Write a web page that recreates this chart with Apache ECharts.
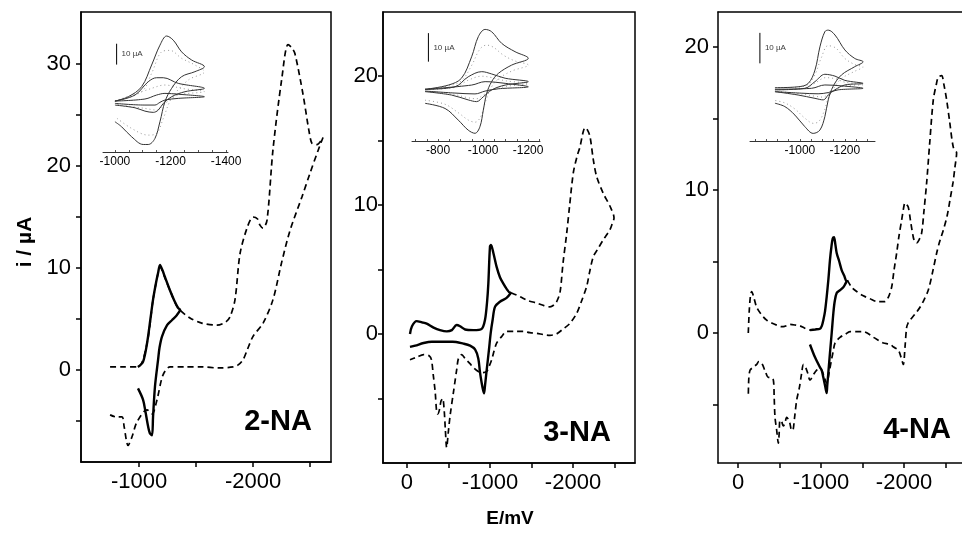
<!DOCTYPE html>
<html><head><meta charset="utf-8">
<script src="https://cdn.jsdelivr.net/npm/echarts@6/dist/echarts.min.js"></script>
<style>html,body{margin:0;padding:0;background:#fff}#c{width:962px;height:535px}</style>
</head><body><div id="c"></div>
<script>
// ---------- DATA (E in mV, i in µA) ----------
// Panel 1: 2-NA
const p1Solid = [[-990,0.3],[-1035,0.8],[-1070,2.6],[-1100,5.0],[-1123,6.9],[-1150,8.6],[-1167,9.5],[-1184,10.3],[-1205,9.8],[-1228,9.1],[-1272,7.8],[-1310,6.8],[-1342,6.1],[-1360,5.9],[-1333,5.4],[-1290,4.9],[-1246,4.4],[-1202,3.3],[-1180,2.2],[-1167,1.0],[-1140,-1.6],[-1123,-4.6],[-1114,-6.4],[-1095,-6.2],[-1079,-5.5],[-1055,-4.0],[-1035,-2.9],[-991,-1.8]];
const p1Dash = [[-746,0.3],[-850,0.3],[-990,0.3],[-1070,2.6],[-1123,6.9],[-1167,9.5],[-1184,10.1],[-1228,9.0],[-1272,7.8],[-1342,6.1],[-1447,5.1],[-1550,4.6],[-1684,4.4],[-1760,4.7],[-1798,5.2],[-1842,6.9],[-1886,11.4],[-1950,14.0],[-2000,15.0],[-2040,14.8],[-2061,14.2],[-2088,13.9],[-2123,14.7],[-2175,21.6],[-2254,28.7],[-2307,31.9],[-2340,31.6],[-2368,31.0],[-2439,27.0],[-2490,23.5],[-2518,22.2],[-2560,22.1],[-2614,22.8],
  [-2570,21.5],[-2500,19.3],[-2430,17.0],[-2325,13.7],[-2250,10.5],[-2175,6.9],[-2088,4.6],[-2000,3.3],[-1950,2.0],[-1912,1.0],[-1870,0.5],[-1827,0.3],[-1700,0.2],[-1550,0.3],[-1400,0.3],[-1272,0.3],[-1210,-0.5],[-1158,-2.9],[-1114,-4.3],[-1070,-3.9],[-982,-5.1],[-940,-6.5],[-904,-7.4],[-870,-5.6],[-851,-4.6],[-800,-4.6],[-746,-4.4]];
// Panel 2: 3-NA
const p2Solid = [[-36,0],[-60,0.6],[-116,1.0],[-180,0.9],[-237,0.8],[-320,0.5],[-398,0.3],[-480,0.2],[-540,0.3],[-598,0.7],[-640,0.6],[-700,0.35],[-800,0.3],[-900,0.4],[-940,1.1],[-965,2.5],[-980,3.9],[-1000,6.8],[-1012,6.9],[-1040,6.3],[-1080,5.2],[-1120,4.4],[-1161,3.9],[-1200,3.5],[-1241,3.2],[-1253,3.2],[-1200,2.8],[-1120,2.5],[-1060,2.1],[-1032,1.1],[-1008,0.05],[-988,-1.2],[-960,-2.8],[-940,-4.0],[-928,-4.6],[-915,-4.3],[-900,-3.8],[-880,-3.0],[-859,-1.9],[-820,-1.2],[-760,-0.9],[-680,-0.75],[-550,-0.6],[-400,-0.6],[-300,-0.6],[-200,-0.7],[-100,-0.9],[-36,-1.0]];
const p2Dash = [[-1253,3.2],[-1361,2.9],[-1450,2.6],[-1562,2.4],[-1650,2.2],[-1723,2.1],[-1780,2.3],[-1803,2.5],[-1843,3.2],[-1880,5.5],[-1924,7.8],[-1960,10.0],[-2004,12.5],[-2050,13.8],[-2084,14.5],[-2120,15.6],[-2145,16.0],[-2175,15.8],[-2205,15.3],[-2245,13.5],[-2285,12.2],[-2365,10.9],[-2446,9.9],[-2494,9.0],
  [-2470,8.5],[-2446,8.1],[-2365,7.3],[-2300,6.6],[-2245,6.0],[-2200,4.8],[-2165,3.7],[-2100,2.5],[-2044,1.6],[-1960,0.8],[-1884,0.4],[-1800,0.0],[-1723,-0.1],[-1650,-0.05],[-1562,0.05],[-1480,0.1],[-1402,0.2],[-1300,0.2],[-1201,0.2],[-1140,-0.2],[-1080,-0.7],[-1050,-1.3],[-1020,-2.0],[-990,-2.5],[-960,-2.9],[-910,-3.0],[-859,-2.9],[-800,-2.6],[-759,-2.3],[-700,-1.9],[-659,-1.6],[-620,-1.9],[-598,-2.8],[-560,-4.5],[-520,-6.3],[-498,-7.6],[-478,-8.8],[-462,-7.4],[-448,-5.9],[-430,-5.0],[-410,-5.2],[-390,-5.9],[-370,-6.2],[-357,-6.0],[-340,-4.5],[-317,-3.2],[-295,-2.0],[-270,-1.7],[-200,-1.6],[-116,-1.8],[-36,-2.0]];
// Panel 3: 4-NA
const p3Solid = [[-867,0.2],[-930,0.25],[-988,0.3],[-1010,0.5],[-1028,0.9],[-1048,1.5],[-1068,2.5],[-1090,3.8],[-1108,5.1],[-1125,6.0],[-1141,6.6],[-1157,6.7],[-1173,6.2],[-1189,5.6],[-1220,5.0],[-1249,4.4],[-1280,4.0],[-1309,3.6],[-1317,3.7],[-1290,3.4],[-1269,3.2],[-1230,3.0],[-1189,2.8],[-1165,2.2],[-1149,1.4],[-1129,0],[-1108,-1.4],[-1088,-2.8],[-1075,-3.7],[-1068,-4.2],[-1050,-3.7],[-1028,-3.1],[-1008,-2.6],[-988,-2.4],[-928,-1.7],[-867,-0.8]];
const p3DashStart = [[-124,0],[-135,1.5],[-150,2.6],[-165,2.9],[-190,2.5],[-225,1.8],[-280,1.3],[-345,0.9],[-406,0.7],[-466,0.55],[-520,0.45],[-546,0.45],[-600,0.55],[-627,0.6],[-700,0.55],[-747,0.5],[-800,0.35],[-867,0.2]];
const p3Dash = [[-1317,3.7],[-1370,3.2],[-1430,2.9],[-1510,2.6],[-1590,2.4],[-1680,2.2],[-1771,2.2],[-1811,2.5],[-1851,3.2],[-1880,4.4],[-1912,5.6],[-1940,6.8],[-1972,7.9],[-2000,8.9],[-2012,9.1],[-2030,9.0],[-2052,8.8],[-2080,7.8],[-2112,6.7],[-2130,6.4],[-2153,6.3],[-2180,6.5],[-2213,7.0],[-2240,8.5],[-2273,10.5],[-2310,13.3],[-2353,16.3],[-2390,17.4],[-2414,17.9],[-2454,18.0],[-2480,17.4],[-2514,16.3],[-2550,14.8],[-2594,13.0],[-2634,12.6],
  [-2614,11.6],[-2590,10.5],[-2554,9.3],[-2520,8.2],[-2474,7.2],[-2430,6.4],[-2394,5.6],[-2350,4.4],[-2293,3.0],[-2240,2.3],[-2193,1.8],[-2130,1.3],[-2072,0.9],[-2050,0.7],[-2032,0.4],[-2012,-1.0],[-1992,-2.2],[-1965,-1.7],[-1932,-1.2],[-1880,-1.0],[-1831,-0.8],[-1751,-0.7],[-1690,-0.5],[-1631,-0.3],[-1570,-0.05],[-1510,0.1],[-1430,0.1],[-1349,0.1],[-1290,-0.1],[-1229,-0.3],[-1169,-0.7],[-1150,-1.2],[-1129,-1.8],[-1100,-2.7],[-1068,-3.5],[-1040,-3.1],[-1008,-2.6],[-980,-2.5],[-948,-2.6],[-910,-2.9],[-867,-3.3],[-840,-2.8],[-807,-2.3],[-787,-2.2],[-767,-2.8],[-740,-3.8],[-707,-4.7],[-680,-6.0],[-660,-6.8],[-647,-6.8],[-620,-6.2],[-586,-5.9],[-566,-6.3],[-546,-6.5],[-526,-6.2],[-506,-6.1],[-496,-7.0],[-486,-7.7],[-466,-6.8],[-446,-5.9],[-436,-4.5],[-426,-3.3],[-395,-3.1],[-365,-3.1],[-330,-2.7],[-285,-2.1],[-250,-2.0],[-225,-2.2],[-180,-2.4],[-145,-2.6],[-130,-3.2],[-124,-4.5]];

// Insets (scan-rate series, solid = measured, dotted = simulated)
const in1Big = [[-1000,0],[-1048,2.1],[-1096,6.9],[-1132,17.3],[-1162,26.8],[-1186,31.2],[-1210,29.2],[-1240,23.6],[-1276,19.7],[-1322,16.5],[-1288,14.1],[-1240,11.7],[-1204,6.1],[-1180,-0.3],[-1162,-9.9],[-1144,-17.9],[-1120,-20.8],[-1102,-20.8],[-1060,-17.1],[-1024,-12.3],[-1000,-9.9]];
const in1Mid = [[-1000,0],[-1072,2.9],[-1120,9.3],[-1150,11.2],[-1174,11.2],[-1228,8.5],[-1322,6.1],[-1252,4.5],[-1204,2.1],[-1174,-1.1],[-1156,-4.3],[-1138,-5.4],[-1108,-4.8],[-1072,-3.2],[-1000,-1.9]];
const in1Small = [[-1000,0],[-1108,1.0],[-1150,2.9],[-1180,3.7],[-1228,3.3],[-1322,2.1],[-1228,1.3],[-1180,0.5],[-1162,-0.6],[-1144,-1.9],[-1108,-1.9],[-1000,-1.1]];
const in1SimBig = [[-1000,0],[-1096,4.5],[-1132,13.3],[-1168,23.6],[-1198,24.3],[-1240,20.5],[-1288,17.3],[-1322,14.1],[-1264,10.1],[-1204,1.3],[-1174,-8.3],[-1150,-15.5],[-1120,-16.3],[-1060,-13.1],[-1000,-7.5]];
const in1SimMid = [[-1000,0],[-1132,6.1],[-1180,7.7],[-1240,6.1],[-1322,4.5],[-1228,2.9],[-1180,-1.1],[-1150,-4.3],[-1108,-3.5],[-1000,-1.5]];
const in1Bar = [[-1006,17.5],[-1006,27.5]];

const in2Big = [[-742,0],[-846,1.5],[-904,3.9],[-949,11.4],[-979,18.5],[-1009,21.0],[-1038,20.2],[-1083,16.1],[-1142,13.2],[-1201,10.9],[-1127,8.5],[-1068,5.6],[-1038,2.7],[-1016,-1.4],[-1001,-7.3],[-986,-13.1],[-964,-15.4],[-934,-14.3],[-890,-10.8],[-831,-6.7],[-742,-4.9]];
const in2Mid = [[-742,0],[-875,0.9],[-934,4.4],[-994,6.2],[-1038,5.4],[-1098,3.9],[-1201,2.7],[-1098,1.5],[-1038,-0.2],[-1001,-2.6],[-971,-4.3],[-934,-3.7],[-860,-2.0],[-742,-0.8]];
const in2Small = [[-742,0],[-949,1.5],[-1009,2.7],[-1098,2.1],[-1201,0.9],[-1068,0.2],[-1009,-0.6],[-964,-1.6],[-875,-1.3],[-742,-0.6]];
const in2SimBig = [[-742,0],[-846,1.2],[-904,3.0],[-950,8.5],[-985,14.0],[-1015,15.5],[-1045,14.8],[-1090,12.0],[-1140,10.0],[-1201,8.5],[-1130,6.5],[-1070,3.8],[-1035,0.5],[-1010,-4.5],[-990,-9.5],[-965,-11.5],[-935,-10.8],[-890,-8.2],[-830,-5.2],[-742,-3.8]];
const in2SimMid = [[-742,0],[-875,0.7],[-934,3.2],[-994,4.6],[-1040,4.1],[-1100,3.0],[-1201,2.0],[-1100,1.0],[-1040,-0.3],[-1000,-2.0],[-971,-3.3],[-930,-2.9],[-860,-1.6],[-742,-0.7]];
const in2Bar = [[-757,9.7],[-757,19.7]];

const in3Big = [[-889,0.2],[-992,0.5],[-1037,1.6],[-1067,6.0],[-1089,13.6],[-1111,18.6],[-1126,19.1],[-1156,17.5],[-1200,12.6],[-1244,9.8],[-1281,8.7],[-1244,7.1],[-1185,4.4],[-1148,0.7],[-1126,-3.8],[-1111,-9.3],[-1089,-13.7],[-1059,-14.8],[-1022,-12.6],[-978,-8.8],[-933,-6.0],[-889,-4.9]];
const in3Mid = [[-889,-0.5],[-1022,0],[-1067,2.2],[-1111,4.6],[-1156,4.0],[-1200,2.6],[-1281,1.6],[-1200,1.1],[-1156,-0.5],[-1126,-2.2],[-1104,-3.8],[-1067,-3.3],[-992,-2.2],[-889,-1.1]];
const in3Small = [[-889,-0.3],[-1052,0],[-1111,1.1],[-1185,0.8],[-1281,0],[-1170,-0.5],[-1126,-1.4],[-1081,-1.8],[-1007,-1.6],[-889,-1.1]];
const in3SimBig = [[-889,0.2],[-992,0.4],[-1037,1.3],[-1067,4.5],[-1095,10.0],[-1125,14.0],[-1160,13.2],[-1200,9.8],[-1244,7.8],[-1281,7.0],[-1244,5.6],[-1185,3.2],[-1150,0],[-1126,-3.2],[-1108,-7.5],[-1085,-10.8],[-1060,-11.5],[-1022,-9.8],[-978,-6.8],[-933,-4.8],[-889,-4.0]];
const in3SimMid = [[-889,-0.5],[-1022,0],[-1067,1.7],[-1115,3.5],[-1160,3.1],[-1200,2.0],[-1281,1.2],[-1200,0.8],[-1156,-0.4],[-1126,-1.7],[-1104,-2.9],[-1067,-2.6],[-992,-1.7],[-889,-0.9]];
const in3Bar = [[-822,8.2],[-822,18.2]];

// ticks / labels
const p1XTicks = [-1000,-1500,-2000,-2500], p1XLabels = [-1000,-2000];
const p23XTicks = [0,-500,-1000,-1500,-2000,-2500], p23XLabels = [0,-1000,-2000];
const p1YTicks = [-5,0,5,10,15,20,25,30], p1YLabels = [0,10,20,30];
const p23YTicks = [-5,0,5,10,15,20], p23YLabels = [0,10,20];
const in1Labels = [-1000,-1200,-1400], in2Labels = [-800,-1000,-1200], in3Labels = [-1000,-1200];
const panelNames = ['2-NA','3-NA','4-NA'];
const barText = '10 µA';

// ---------- LAYOUT ----------
const FONT = 'Liberation Sans, Arial, Helvetica, sans-serif';
const fmt = v => String(v);
const grids = [
  {left:81, top:12, width:250, height:450},
  {left:383, top:12, width:252, height:451},
  {left:718, top:12, width:244, height:451},
  {left:103, top:31, width:125, height:121},
  {left:412, top:28, width:128, height:113},
  {left:750, top:28, width:125, height:113}
];
const xr = [[-2684,-491],[-2747,289],[-2699,241],[-1407,-957],[-1253,-684],[-1334,-778]];
const yr = [[-9.02,35.1],[-10,24.96],[-9.09,22.45],[-24.4,33.6],[-18.1,21.5],[-17.3,19.8]];
const yMargins = [10,5,9];

const xAxes = [], yAxes = [];
for (let k=0;k<3;k++){
  xAxes.push({gridIndex:k, type:'value', inverse:true, min:xr[k][0], max:xr[k][1],
    axisLine:{onZero:false, lineStyle:{color:'#000', width:1.5}},
    axisTick:{customValues: k===0?p1XTicks:p23XTicks, length:5, lineStyle:{color:'#000', width:1.5}},
    axisLabel:{customValues: k===0?p1XLabels:p23XLabels, formatter:fmt, color:'#000', fontSize:22, fontFamily:FONT, margin:9},
    splitLine:{show:false}});
  yAxes.push({gridIndex:k, type:'value', min:yr[k][0], max:yr[k][1],
    axisLine:{onZero:false, lineStyle:{color:'#000', width:1.5}},
    axisTick:{customValues: k===0?p1YTicks:p23YTicks, length:5, lineStyle:{color:'#000', width:1.5}},
    axisLabel:{customValues: k===0?p1YLabels:p23YLabels, formatter:fmt, color:'#000', fontSize:22, fontFamily:FONT, margin:yMargins[k]},
    splitLine:{show:false}});
}
const inLabels = [in1Labels,in2Labels,in3Labels];
for (let k=3;k<6;k++){
  const ticks=[]; for(let t=Math.ceil(-xr[k][1]/50)*50; t<=-xr[k][0]; t+=50) ticks.push(-t);
  xAxes.push({gridIndex:k, type:'value', inverse:true, min:xr[k][0], max:xr[k][1],
    axisLine:{onZero:false, lineStyle:{color:'#333', width:1}},
    axisTick:{customValues:ticks, length:2, inside:true, lineStyle:{color:'#555', width:1}},
    axisLabel:{customValues:inLabels[k-3], formatter:fmt, color:'#000', fontSize:12, fontFamily:FONT, margin:4},
    splitLine:{show:false}});
  yAxes.push({gridIndex:k, type:'value', min:yr[k][0], max:yr[k][1], show:false, splitLine:{show:false}});
}
// top frame line for the right panel (its right edge runs off the page)
xAxes.push({gridIndex:2, type:'value', position:'top', inverse:true, min:xr[2][0], max:xr[2][1],
  axisLine:{onZero:false, lineStyle:{color:'#000', width:1.5}}, axisTick:{show:false}, axisLabel:{show:false}, splitLine:{show:false}});

const series = [];
function line(idx, data, style){
  series.push(Object.assign({type:'line', xAxisIndex:idx, yAxisIndex:idx, data:data, showSymbol:false, symbol:'none', smooth:0.3, animation:false, silent:true}, style));
}
const solidMain = {lineStyle:{color:'#000', width:2.4}, z:4};
const dashMain = {lineStyle:{color:'#000', width:1.7, type:[6,4]}, z:3};
line(0,p1Dash,dashMain); line(0,p1Solid,solidMain);
line(1,p2Dash,dashMain); line(1,p2Solid,solidMain);
line(2,p3DashStart,dashMain); line(2,p3Dash,dashMain); line(2,p3Solid,solidMain);
const inSolid = {lineStyle:{color:'#333', width:1}, smooth:0.35};
const inDot = {lineStyle:{color:'#999', width:1, type:[1,3]}, smooth:0.35};
[[in1Big,in1Mid,in1Small,in1SimBig,in1SimMid,in1Bar],[in2Big,in2Mid,in2Small,in2SimBig,in2SimMid,in2Bar],[in3Big,in3Mid,in3Small,in3SimBig,in3SimMid,in3Bar]].forEach((s,j)=>{
  const idx=3+j;
  line(idx,s[3],inDot); line(idx,s[4],inDot);
  line(idx,s[0],inSolid); line(idx,s[1],inSolid); line(idx,s[2],inSolid);
  line(idx,s[5],{lineStyle:{color:'#000', width:1}, smooth:false});
  const mid = [s[5][0][0], (s[5][0][1]+s[5][1][1])/2];
  series.push({type:'scatter', xAxisIndex:idx, yAxisIndex:idx, data:[mid], symbolSize:0, silent:true, animation:false,
    label:{show:true, position:'right', distance:5, formatter:barText, fontSize:8, color:'#000', fontFamily:FONT}});
});

const labelPos = [[278,422],[577,433],[917,430]];
const graphic = panelNames.map((t,k)=>({type:'text', x:labelPos[k][0], y:labelPos[k][1],
  style:{text:t, font:'bold 29px '+FONT, fill:'#000', align:'center', verticalAlign:'middle'}}));
graphic.push({type:'text', x:510, y:519, style:{text:'E/mV', font:'bold 19px '+FONT, fill:'#000', align:'center', verticalAlign:'middle'}});
graphic.push({type:'text', x:25, y:242, rotation:Math.PI/2, style:{text:'i / µA', font:'bold 21px '+FONT, fill:'#000', align:'center', verticalAlign:'middle'}});

const chart = echarts.init(document.getElementById('c'), null, {renderer:'canvas'});
chart.setOption({
  animation:false,
  backgroundColor:'#fff',
  grid: grids.map((g,k)=>Object.assign({}, g, k<2?{show:true, borderColor:'#000', borderWidth:1.5}:{show:false})),
  xAxis:xAxes, yAxis:yAxes, series:series, graphic:graphic
});
</script></body></html>
